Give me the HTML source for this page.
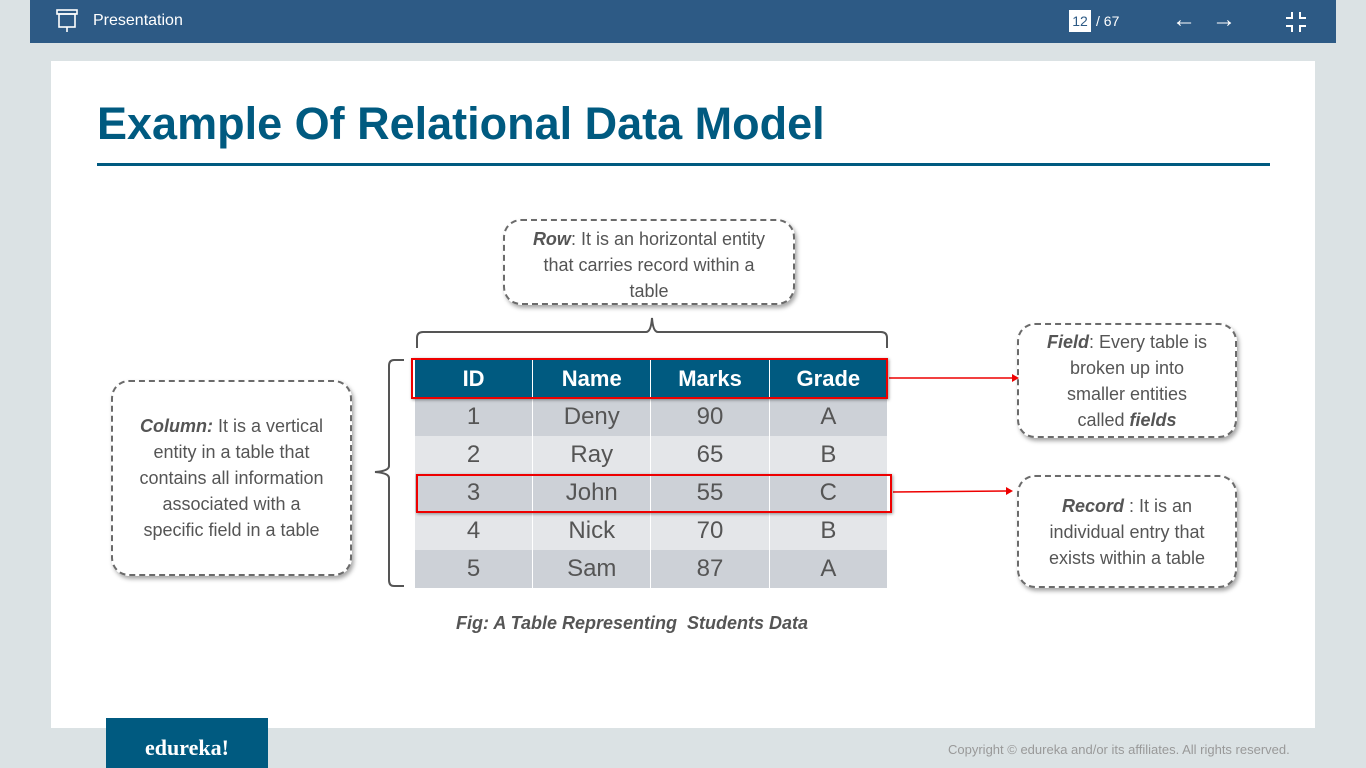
<!DOCTYPE html>
<html><head><meta charset="utf-8"><style>
*{margin:0;padding:0;box-sizing:border-box}
html,body{width:1366px;height:768px;overflow:hidden}
body{background:#dbe2e4;font-family:"Liberation Sans",sans-serif;position:relative}
.a{position:absolute}
.top{left:30px;top:0;width:1306px;height:43px;background:#2d5a85;color:#fff}
.slide{left:51px;top:61px;width:1264px;height:667px;background:#fff}
.call{position:absolute;border:2px dashed #6b6b6b;border-radius:18px;background:#fff;box-shadow:2px 3px 4px rgba(0,0,0,.35);color:#555;font-family:"Liberation Sans",sans-serif;font-size:18px;line-height:26px;text-align:center;display:flex;align-items:center;justify-content:center}
table{border-collapse:collapse;position:absolute;left:414px;top:360px;width:474px}
td{height:38px;text-align:center;font-size:24px;color:#555;border-left:1px solid #fff;border-right:1px solid #fff;width:118.5px;padding:0}
th{height:38px;background:#005a80;color:#fff;font-size:22px;border:1px solid #fff;border-top:0}
tr.o td{background:#cdd1d7}tr.e td{background:#e4e6e9}
.red{position:absolute;border:2px solid #e00;box-shadow:1px 1px 3px rgba(0,0,0,.4)}
</style></head><body>
<div class="a top">
 <svg class="a" style="left:25px;top:8px" width="24" height="26"><rect x="2" y="2" width="20" height="4" fill="none" stroke="#fff" stroke-width="1.6"/><rect x="4" y="6" width="16" height="13" fill="none" stroke="#fff" stroke-width="1.6"/><line x1="12" y1="19" x2="12" y2="24" stroke="#fff" stroke-width="1.6"/></svg>
 <div class="a" style="left:63px;top:12px;font-size:16px">Presentation</div>
 <div class="a" style="left:1039px;top:10px;width:22px;height:22px;background:#fff;color:#2d5a85;font-size:14px;text-align:center;line-height:22px">12</div>
 <div class="a" style="left:1066px;top:13px;font-size:14px">/ 67</div>
 <div class="a" style="left:1142px;top:6px;font-size:24px;font-weight:bold">←</div>
 <div class="a" style="left:1182px;top:6px;font-size:24px;font-weight:bold">→</div>
 <svg class="a" style="left:1254px;top:10px" width="24" height="24"><path d="M8 2v6H2M16 2v6h6M8 22v-6H2M16 22v-6h6" fill="none" stroke="#fff" stroke-width="2"/></svg>
</div>
<div class="a slide"></div>
<div class="a" style="left:97px;top:98px;font-size:45px;font-weight:bold;color:#005a80">Example Of Relational Data Model</div>
<div class="a" style="left:97px;top:163px;width:1173px;height:3px;background:#005a80"></div>

<div class="call" style="left:503px;top:219px;width:292px;height:86px;padding:6px 20px 0"><div><b><i>Row</i></b>: It is an horizontal entity that carries record within a table</div></div>
<div class="call" style="left:111px;top:380px;width:241px;height:196px;padding:0 20px"><div><b><i>Column:</i></b> It is a vertical entity in a table that contains all information associated with a specific field in a table</div></div>
<div class="call" style="left:1017px;top:323px;width:220px;height:115px;padding:0 22px"><div><b><i>Field</i></b>: Every table is broken up into smaller entities called <b><i>fields</i></b></div></div>
<div class="call" style="left:1017px;top:475px;width:220px;height:113px;padding:0 16px"><div><b><i>Record</i></b> : It is an individual entry that exists within a table</div></div>

<svg class="a" style="left:0;top:0" width="1366" height="768">
 <path d="M417 348 V338 Q417 332 423 332 H646 Q651 332 652 318 Q653 332 658 332 H881 Q887 332 887 338 V348" fill="none" stroke="#555" stroke-width="2"/>
 <path d="M404 360 H394 Q389 360 389 366 V466 Q389 471 375 472 Q389 473 389 478 V580 Q389 586 394 586 H404" fill="none" stroke="#555" stroke-width="2"/>
 <line x1="889" y1="378" x2="1012" y2="378" stroke="#e00" stroke-width="1.5"/><path d="M1012 374 L1019 378 L1012 382Z" fill="#e00"/>
 <line x1="893" y1="492" x2="1006" y2="491" stroke="#e00" stroke-width="1.5"/><path d="M1006 487 L1013 491 L1006 495Z" fill="#e00"/>
</svg>

<table>
<tr><th>ID</th><th>Name</th><th>Marks</th><th>Grade</th></tr>
<tr class="o"><td>1</td><td>Deny</td><td>90</td><td>A</td></tr>
<tr class="e"><td>2</td><td>Ray</td><td>65</td><td>B</td></tr>
<tr class="o"><td>3</td><td>John</td><td>55</td><td>C</td></tr>
<tr class="e"><td>4</td><td>Nick</td><td>70</td><td>B</td></tr>
<tr class="o"><td>5</td><td>Sam</td><td>87</td><td>A</td></tr>
</table>
<div class="red" style="left:411px;top:358px;width:477px;height:41px"></div>
<div class="red" style="left:416px;top:474px;width:476px;height:39px"></div>

<div class="a" style="left:456px;top:613px;font-size:18px;font-weight:bold;font-style:italic;color:#555">Fig: A Table Representing&nbsp; Students Data</div>
<div class="a" style="left:106px;top:718px;width:162px;height:50px;background:#005a80;color:#fff;font-size:22px;font-weight:bold;text-align:center;line-height:60px;font-family:'Liberation Serif',serif">edureka!</div>
<div class="a" style="left:948px;top:742px;font-size:13px;color:#999">Copyright © edureka and/or its affiliates. All rights reserved.</div>
</body></html>
